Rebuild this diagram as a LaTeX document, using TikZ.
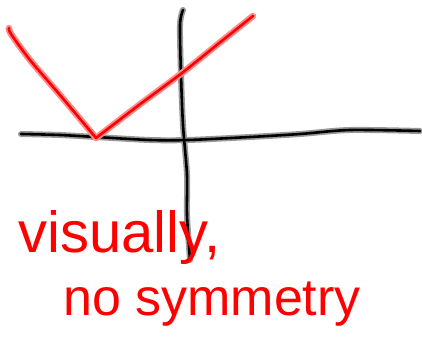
\documentclass[tikz,border=0pt]{standalone}
\usepackage{fontspec}
\setmainfont{Liberation Sans}
\tikzset{
  glowred/.style={draw=red!45, line width=6.5pt, line cap=round, line join=round},
  inkred/.style={draw=red, line width=2.6pt, line cap=round, line join=round},
  glowblack/.style={draw=black!40, line width=6pt, line cap=round, line join=round},
  inkblack/.style={draw=black, line width=2.6pt, line cap=round, line join=round},
  handtext/.style={inner sep=0pt, anchor=base west, text=red}
}
\begin{document}
\begin{tikzpicture}[x=1pt,y=-1pt]
\useasboundingbox (0,0) rectangle (422,358);
% axes
\foreach \s in {glowblack,inkblack}{
  \draw[\s] plot[smooth] coordinates {(21,134) (60,135) (96,137) (150,140) (188,140) (250,137) (300,134) (350,130) (420,131)};
  \draw[\s] plot[smooth] coordinates {(183,10) (180,25) (181,75) (183,125) (187,175) (187,215) (190,260)};
}
% red V
\foreach \s in {glowred,inkred}{
  \draw[\s] plot[smooth] coordinates {(9,28) (11,34) (30,60) (60,95) (96,138)};
  \draw[\s] plot[smooth] coordinates {(96,138) (139,105) (182,73) (218,44) (253,16)};
}
% text
\node[handtext, font=\fontsize{58}{58}\selectfont] (t1) at (18,252) {visually,};
\node[handtext, font=\fontsize{52}{52}\selectfont] (t2) at (63,315) {no symmetry};
\end{tikzpicture}
\end{document}
